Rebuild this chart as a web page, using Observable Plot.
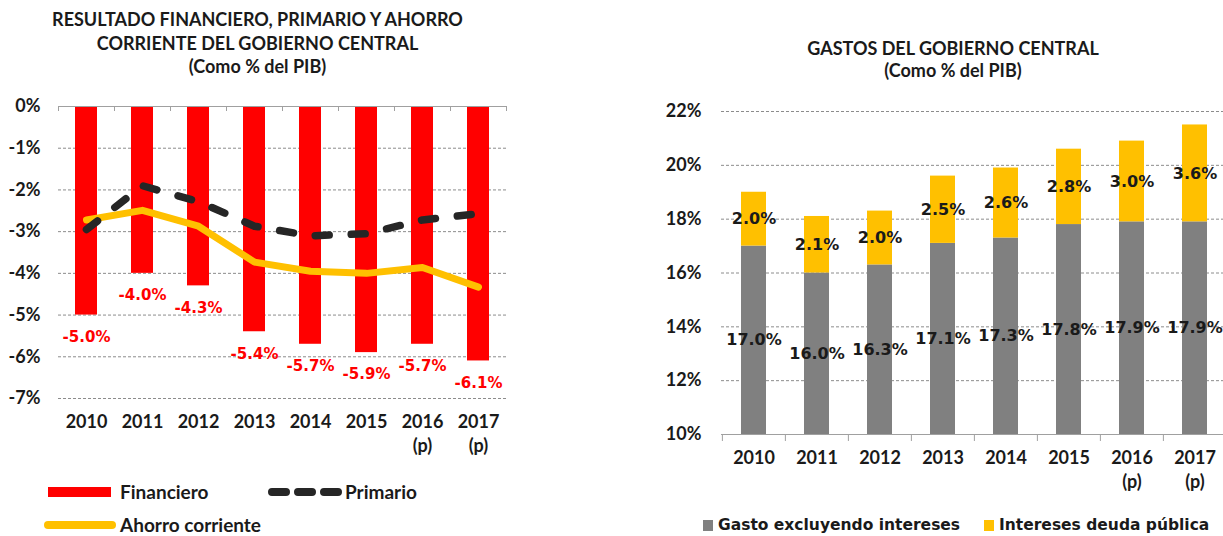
<!DOCTYPE html>
<html><head><meta charset="utf-8">
<script src="https://cdn.jsdelivr.net/npm/d3@7"></script>
<script src="https://cdn.jsdelivr.net/npm/@observablehq/plot@0.6"></script>
<style>
body{margin:0;background:#fff;width:1223px;height:536px;position:relative;overflow:hidden;font-family:Lato,sans-serif;color:#1a1a1a}
.t{position:absolute;font-weight:bold;text-align:center;white-space:nowrap}
.abs{position:absolute}
.leg{position:absolute;font-weight:bold;white-space:nowrap}
</style></head><body>
<div class="t" style="left:0;width:515px;top:8px;font-size:18px;line-height:23.5px">RESULTADO FINANCIERO, PRIMARIO Y AHORRO<br>CORRIENTE DEL GOBIERNO CENTRAL<br>(Como % del PIB)</div>
<div class="t" style="left:753px;width:400px;top:38px;font-size:18px;line-height:21.5px">GASTOS DEL GOBIERNO CENTRAL<br>(Como % del PIB)</div>
<div id="left" class="abs" style="left:0;top:80px"></div>
<div id="right" class="abs" style="left:640px;top:80px"></div>

<div class="abs" style="left:48px;top:487px;width:63px;height:10px;background:#FF0000"></div>
<div class="leg" style="left:120px;top:480px;font-size:19px;line-height:24px">Financiero</div>
<svg class="abs" style="left:262px;top:482px" width="84" height="20"><line x1="10" y1="10" x2="78" y2="10" stroke="#262626" stroke-width="8" stroke-linecap="round" stroke-dasharray="14,12"/></svg>
<div class="leg" style="left:345px;top:480px;font-size:19px;line-height:24px">Primario</div>
<svg class="abs" style="left:40px;top:516px" width="80" height="16"><line x1="8" y1="9" x2="72" y2="9" stroke="#FFC000" stroke-width="8" stroke-linecap="round"/></svg>
<div class="leg" style="left:120px;top:513px;font-size:19px;line-height:23px">Ahorro corriente</div>

<div class="abs" style="left:703px;top:520px;width:10px;height:11px;background:#808080"></div>
<div class="leg" style="left:718px;top:515px;font-size:15.5px;line-height:20px;font-family:'DejaVu Sans'">Gasto excluyendo intereses</div>
<div class="abs" style="left:984px;top:520px;width:10px;height:11px;background:#FFC000"></div>
<div class="leg" style="left:999px;top:515px;font-size:15.5px;line-height:20px;font-family:'DejaVu Sans'">Intereses deuda pública</div>

<script>
const years = ["2010","2011","2012","2013","2014","2015","2016","2017"];
const yearLabels = ["2010","2011","2012","2013","2014","2015","2016\n(p)","2017\n(p)"];
const financiero = [-5.0,-4.0,-4.3,-5.4,-5.7,-5.9,-5.7,-6.1];
const primario = [-2.95,-1.9,-2.28,-2.87,-3.1,-3.05,-2.72,-2.57];
const ahorro = [-2.72,-2.49,-2.87,-3.73,-3.95,-4.0,-3.86,-4.33];
const gasto = [17.0,16.0,16.3,17.1,17.3,17.8,17.9,17.9];
const intereses = [2.0,2.1,2.0,2.5,2.6,2.8,3.0,3.6];
const leftTicks = [0,-1,-2,-3,-4,-5,-6,-7];
const rightTicks = [10,12,14,16,18,20,22];

const labelOf = new Map(years.map((y,i)=>[y,yearLabels[i]]));
const leftRows = years.map((y,i)=>({year:y, fin:financiero[i], prim:primario[i], ahorro:ahorro[i]}));
const rightRows = years.map((y,i)=>({year:y, g:gasto[i], it:intereses[i], tot:gasto[i]+intereses[i]}));
const grid = {stroke:"#8c8c8c", strokeDasharray:"3,2", strokeWidth:1};
const axisStyle = {fontFamily:"Lato", fontSize:"18px", fontWeight:"bold", color:"#1a1a1a", background:"transparent", overflow:"visible"};

// LEFT
const lStep = 448/8;
const left = Plot.plot({
  width:520, height:400, marginLeft:58, marginRight:14, marginTop:26, marginBottom:82,
  x:{domain:years, paddingInner:0.6, paddingOuter:0.3, axis:null},
  y:{domain:[-7,0], axis:null},
  style:axisStyle,
  marks:[
    Plot.ruleY(leftTicks.filter(d=>d!==0), grid),
    Plot.barY(leftRows, {x:"year", y1:0, y2:"fin", fill:"#FF0000"}),
    Plot.ruleY([0], {stroke:"#a0a0a0", strokeWidth:1.2}),
    Plot.ruleX(years, {x:d=>d, y1:0, y2:-0.12, dx:-lStep/2, stroke:"#a0a0a0"}),
    Plot.ruleX([years[years.length-1]], {x:d=>d, y1:0, y2:-0.12, dx:lStep/2, stroke:"#a0a0a0"}),
    Plot.line(leftRows, {x:"year", y:"ahorro", stroke:"#FFC000", strokeWidth:7, strokeLinejoin:"round", strokeLinecap:"round"}),
    Plot.line(leftRows, {x:"year", y:"prim", stroke:"#262626", strokeWidth:7.5, strokeDasharray:"14,22", strokeLinecap:"round"}),
    Plot.text(leftRows, {x:"year", y:"fin", text:d=>d.fin.toFixed(1)+"%", dy:22, fill:"#FF0000", fontFamily:"DejaVu Sans", fontSize:15, fontWeight:"bold"}),
    Plot.axisY({ticks:leftTicks, tickFormat:d=>d+"%", tickSize:0, tickPadding:18, label:null}),
    Plot.axisX({tickFormat:d=>labelOf.get(d), tickSize:0, tickPadding:13, lineHeight:1.3, label:null})
  ]
});
document.getElementById("left").append(left);

// RIGHT
const rStep = 506/8;
const right = Plot.plot({
  width:583, height:420, marginLeft:81, marginRight:0, marginTop:31, marginBottom:66,
  x:{domain:years, range:[81,587], paddingInner:0.6, paddingOuter:0.3, axis:null},
  y:{domain:[10,22], axis:null},
  style:axisStyle,
  marks:[
    Plot.ruleY(rightTicks.filter(d=>d!==10), grid),
    Plot.barY(rightRows, {x:"year", y1:10, y2:"g", fill:"#808080"}),
    Plot.barY(rightRows, {x:"year", y1:"g", y2:"tot", fill:"#FFC000"}),
    Plot.ruleY([10], {stroke:"#a0a0a0", strokeWidth:1.2}),
    Plot.ruleX(years, {x:d=>d, y1:10, y2:9.74, dx:-rStep/2, stroke:"#a0a0a0"}),
    Plot.text(rightRows, {x:"year", y:d=>(10+d.g)/2, text:d=>d.g.toFixed(1)+"%", fill:"#1a1a1a", fontFamily:"DejaVu Sans", fontSize:16, fontWeight:"bold"}),
    Plot.text(rightRows, {x:"year", y:d=>d.g+d.it/2, text:d=>d.it.toFixed(1)+"%", fill:"#1a1a1a", fontFamily:"DejaVu Sans", fontSize:16, fontWeight:"bold"}),
    Plot.axisY({ticks:rightTicks, tickFormat:d=>d+"%", tickSize:0, tickPadding:20, label:null}),
    Plot.axisX({tickFormat:d=>labelOf.get(d), tickSize:0, tickPadding:13, lineHeight:1.3, label:null})
  ]
});
document.getElementById("right").append(right);
</script>
</body></html>
